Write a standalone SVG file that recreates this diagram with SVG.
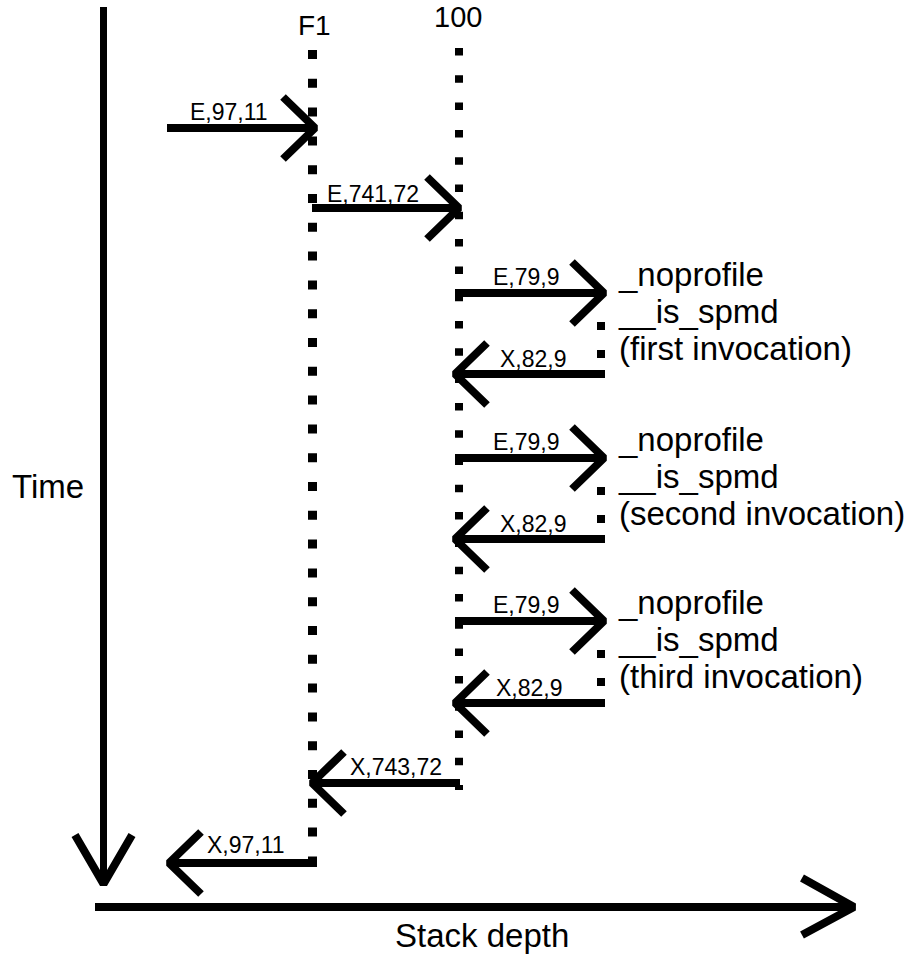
<svg xmlns="http://www.w3.org/2000/svg" width="915" height="958" viewBox="0 0 915 958">
<style>
text{font-family:"Liberation Sans",Arial,sans-serif;fill:#000}
.big{font-size:33px}
.lbl{font-size:23px}
.ln{stroke:#000;stroke-width:8;fill:none;stroke-linecap:butt;stroke-linejoin:bevel}
.dot{fill:#000}
</style>
<defs>
<path id="hR" d="M-32,-31 L0,0 L-32,31" class="ln"/>
<path id="hL" d="M32,-31 L0,0 L32,31" class="ln"/>
</defs>
<rect width="915" height="958" fill="#fff"/>
<g id="axis-time">
<line x1="103.5" y1="7" x2="103.5" y2="883" stroke="#000" stroke-width="7"/>
<path d="M75,835 L103.5,884 L132,835" class="ln"/>
<text class="big" x="12" y="498">Time</text>
</g>
<g id="axis-stack">
<line x1="95" y1="907" x2="852" y2="907" stroke="#000" stroke-width="8"/>
<path d="M802,878 L854,907 L802,935" class="ln"/>
<text class="big" x="395" y="947">Stack depth</text>
</g>
<g id="lifeline-F1">
<text x="298" y="35" style="font-size:28px">F1</text>
<line x1="312.5" y1="50" x2="312.5" y2="867" stroke="#000" stroke-width="9" stroke-dasharray="9 19.8"/>
</g>
<g id="lifeline-100">
<text x="434" y="27" style="font-size:29px">100</text>
<line x1="459" y1="48" x2="459" y2="790" stroke="#000" stroke-width="8" stroke-dasharray="7.5 19.8"/>
</g>
<g id="call-1">
<text class="big" x="619" y="286">_noprofile</text>
<text class="big" x="619" y="323">__is_spmd</text>
<text class="big" x="619" y="360">(first invocation)</text>
<rect class="dot" x="597" y="322" width="8" height="8"/>
<rect class="dot" x="597" y="350" width="8" height="8"/>
</g>
<g id="call-2">
<text class="big" x="619" y="451">_noprofile</text>
<text class="big" x="619" y="488">__is_spmd</text>
<text class="big" x="619" y="525">(second invocation)</text>
<rect class="dot" x="597" y="487" width="8" height="8"/>
<rect class="dot" x="597" y="515" width="8" height="8"/>
</g>
<g id="call-3">
<text class="big" x="619" y="614">_noprofile</text>
<text class="big" x="619" y="651">__is_spmd</text>
<text class="big" x="619" y="688">(third invocation)</text>
<rect class="dot" x="597" y="650" width="8" height="8"/>
<rect class="dot" x="597" y="678" width="8" height="8"/>
</g>
<g id="connectors">
<line class="ln" x1="167" y1="128" x2="315" y2="128"/><use href="#hR" x="315" y="128"/>
<text class="lbl" x="190" y="120">E,97,11</text>
<line class="ln" x1="312" y1="208" x2="459" y2="208"/><use href="#hR" x="459" y="208"/>
<text class="lbl" x="327" y="202">E,741,72</text>

<line class="ln" x1="455" y1="293" x2="604" y2="293"/><use href="#hR" x="604" y="293"/>
<text class="lbl" x="493" y="285">E,79,9</text>
<line class="ln" x1="605" y1="374" x2="455" y2="374"/><use href="#hL" x="455" y="374"/>
<text class="lbl" x="500" y="367">X,82,9</text>

<line class="ln" x1="455" y1="458" x2="604" y2="458"/><use href="#hR" x="604" y="458"/>
<text class="lbl" x="493" y="450">E,79,9</text>
<line class="ln" x1="605" y1="539" x2="455" y2="539"/><use href="#hL" x="455" y="539"/>
<text class="lbl" x="500" y="532">X,82,9</text>

<line class="ln" x1="455" y1="621" x2="604" y2="621"/><use href="#hR" x="604" y="621"/>
<text class="lbl" x="493" y="613">E,79,9</text>
<line class="ln" x1="605" y1="703" x2="455" y2="703"/><use href="#hL" x="455" y="703"/>
<text class="lbl" x="496" y="696">X,82,9</text>

<line class="ln" x1="460" y1="783" x2="312" y2="783"/><use href="#hL" x="312" y="783"/>
<text class="lbl" x="350" y="775">X,743,72</text>
<line class="ln" x1="317" y1="863" x2="169" y2="863"/><use href="#hL" x="169" y="863"/>
<text class="lbl" x="207" y="853">X,97,11</text>
</g>
</svg>
